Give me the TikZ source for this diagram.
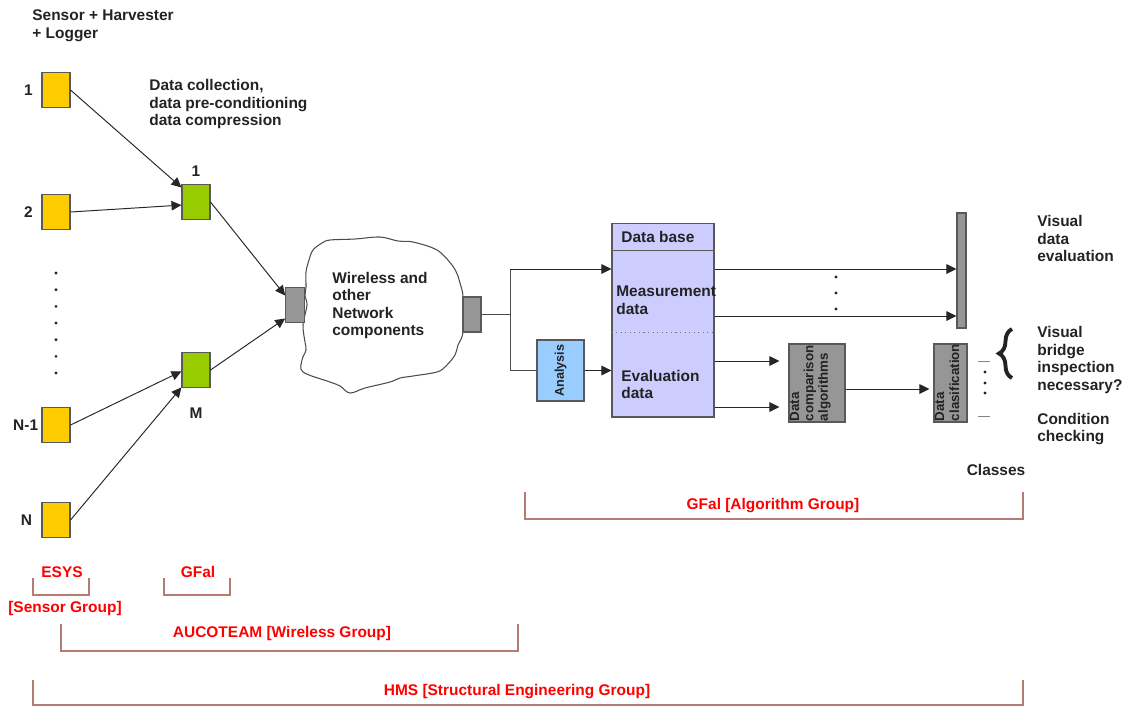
\documentclass[tikz,border=0pt]{standalone}
\usepackage{fontspec}
\setmainfont{Liberation Sans}
\usetikzlibrary{positioning, arrows.meta, decorations.pathreplacing, calc}

\definecolor{sensorfill}{RGB}{255,204,0}
\definecolor{relayfill}{RGB}{153,204,0}
\definecolor{greyfill}{RGB}{150,150,150}
\definecolor{dbfill}{RGB}{204,204,255}
\definecolor{anafill}{RGB}{153,204,255}
\definecolor{groupred}{RGB}{255,0,0}
\definecolor{groupline}{RGB}{180,125,115}
\definecolor{ink}{RGB}{35,35,35}

\begin{document}
\begin{tikzpicture}[
  x=0.02cm, y=-0.02cm,
  font=\fontsize{8.8}{10}\selectfont\bfseries,
  box/.style     = {draw=black!65, line width=0.6pt, inner sep=0pt},
  sensor/.style  = {box, fill=sensorfill, minimum width=5.6mm, minimum height=7mm},
  relay/.style   = {box, fill=relayfill, minimum width=5.6mm, minimum height=7mm},
  port/.style    = {box, fill=greyfill, minimum width=3.7mm, minimum height=7.1mm},
  txt/.style     = {text=ink, align=left, anchor=west, inner sep=0pt},
  num/.style     = {text=ink, inner sep=0pt},
  arr/.style     = {-{Triangle[length=2mm,width=1.9mm]}, line width=0.55pt, color=black!85},
  wire/.style    = {line width=0.55pt, color=black!70},
  vtext/.style   = {text=ink, rotate=90, anchor=north west, align=left, inner sep=0.6pt,
                    font=\fontsize{7.6}{8.2}\selectfont\bfseries},
  group/.style   = {text=groupred, inner sep=0pt},
  bracket/.style = {line width=0.7pt, color=groupline},
]
\useasboundingbox (0,0) rectangle (1124,707);

% =============================================================
% Sensors (harvester + logger) and their first relays
% =============================================================
\node[txt] (sensorhead) at (32, 26)
  {\fontsize{8.8}{10.8}\selectfont Sensor + Harvester\\+ Logger};

\node[sensor] (s1)  at (56, 90)  {};
\node[sensor] (s2)  at (56, 212) {};
\node[sensor] (sN1) at (56, 425) {};
\node[sensor] (sN)  at (56, 520) {};
\node[num, left=1.7mm of s1]  (s1num)  {1};
\node[num, left=1.7mm of s2]  (s2num)  {2};
\node[num, left=0.6mm of sN1] (sN1num) {N-1};
\node[num, left=1.8mm of sN]  (sNnum)  {N};

% column of dots between sensor 2 and N-1
\foreach \k in {0,...,6}
  \fill[ink] (56, 273+16.67*\k) circle (0.9pt);

\node[txt] (proctxt) at (149, 104)
  {Data collection,\\data pre-conditioning\\data compression};

\node[relay] (r1) at (196, 202) {};
\node[relay] (rM) at (196, 370) {};
\node[num, above=1.4mm of r1] (r1num) {1};
\node[num, below=3.9mm of rM] (rMnum) {M};

\draw[arr] (s1.east)  -- (r1.135);
\draw[arr] (s2.east)  -- (r1.192);
\draw[arr] (sN1.east) -- (rM.185);
\draw[arr] (sN.east)  -- (rM.230);

% =============================================================
% Network cloud with its two gateways
% =============================================================
\draw[line width=0.6pt, black!70, fill=white] plot[smooth cycle, tension=0.55] coordinates {
  (313,250) (322,243) (330,240) (355,239) (380,237) (398,241) (413,242) (437,250)
  (452,265) (458,276) (460,283) (463,297) (463,332) (458,345) (455,355) (446,366)
  (437,372) (413,376) (400,378) (390,382) (365,388) (350,393) (340,386) (330,382)
  (303,372) (302,360) (306,350) (305,342) (303,325) (307,305) (305,296) (306,287)
  (306,272) (309,260)};
\node[txt] (cloudtxt) at (332, 305.5)
  {Wireless and\\other\\Network\\components};

\node[port] (p1) at (295, 305)   {};
\node[port, minimum width=3.6mm, minimum height=7mm] (p2) at (472, 314.5) {};

\draw[arr] (r1.east) -- (p1.136);
\draw[arr] (rM.east) -- (p1.234);

% =============================================================
% Data base, analysis and evaluation chain
% =============================================================
\node[box, fill=dbfill, minimum width=20.4mm, minimum height=38.8mm] (db) at (663, 320) {};
\draw[line width=0.6pt, black!65]
  ($(db.north west)+(0,28)$) -- ($(db.north east)+(0,28)$);
\draw[dotted, line width=0.6pt, black!55]
  ($(db.north west)+(0,110)$) -- ($(db.north east)+(0,110)$);
\node[txt] (dbhead)   at (621, 237)   {Data base};
\node[txt] (meastxt)  at (616, 300.5) {Measurement\\data};
\node[txt] (evaltxt)  at (621, 384.5) {Evaluation\\data};

\node[box, fill=anafill, minimum width=9.4mm, minimum height=12.2mm] (ana) at (560.5, 370.5) {};
\node[vtext, anchor=center, font=\fontsize{7.2}{8}\selectfont\bfseries] (anatxt) at (ana) {Analysis};

% split behind the outgoing gateway
\coordinate (jn)   at (510, 314.5);
\coordinate (jtop) at (510, 269);
\coordinate (jbot) at (510, 370.5);
\draw[wire] (p2.east) -- (jn);
\draw[wire] (jtop) -- (jbot);
\draw[arr]  (jtop) -- (jtop -| db.west);
\draw[wire] (jbot) -- (ana.west);
\draw[arr]  (ana.east) -- (ana.east -| db.west);

% visual evaluation bar
\node[box, fill=greyfill, minimum width=1.8mm, minimum height=23mm] (vis) at (961.5, 270.5) {};
\coordinate (mdata1) at (db.east |- jtop);
\coordinate (mdata2) at ($(db.east)+(0,-4)$);
\draw[arr] (mdata1) -- (mdata1 -| vis.west);
\draw[arr] (mdata2) -- (mdata2 -| vis.west);
\foreach \y in {277,293,309}
  \fill[ink] (836,\y) circle (0.9pt);

% comparison and classification
\node[box, fill=greyfill, minimum width=11.2mm, minimum height=15.6mm] (cmp) at (817, 383) {};
\node[vtext] (cmptxt) at (cmp.south west) {Data\\comparison\\algorithms};
\node[box, fill=greyfill, minimum width=6.6mm, minimum height=15.6mm] (cls) at (950.5, 383) {};
\node[vtext, font=\fontsize{7.6}{8.6}\selectfont\bfseries] (clstxt) at (cls.south west) {Data\\clasification};

\coordinate (edata1) at ($(db.east)+(0,41)$);
\coordinate (edata2) at ($(db.east)+(0,87)$);
\draw[arr, shorten >=1.8mm] (edata1) -- (edata1 -| cmp.west);
\draw[arr, shorten >=1.8mm] (edata2) -- (edata2 -| cmp.west);
\draw[arr, shorten >=0.8mm] ($(cmp.east)+(0,6)$) -- ($(cls.west)+(0,6)$);

% class markers and brace
\draw[wire, black!50] (978,361) -- (990,361);
\draw[wire, black!50] (978,416) -- (990,416);
\foreach \y in {372,383,393}
  \fill[ink] (985,\y) circle (0.9pt);
\draw[decorate, decoration={brace, amplitude=2.6mm}, line width=2.2pt, ink] (1012,378) -- (1012,329);

\node[txt] (vistxt)     at (1037, 238.5) {Visual\\data\\evaluation};
\node[txt] (inspecttxt) at (1037, 360)   {Visual\\bridge\\inspection\\necessary?};
\node[txt] (condtxt)    at (1037, 429)   {Condition\\checking};
\node[num] (classes)    at (996, 470)    {Classes};

% =============================================================
% Project groups
% =============================================================
\node[group] (esys)     at (62, 572)  {ESYS};
\node[group] (sensgrp)  at (65, 608)  {[Sensor Group]};
\node[group] (gfalnode) at (198, 572) {GFal};
\node[group] (aucoteam) at (282, 633) {AUCOTEAM [Wireless Group]};
\node[group] (hms)      at (517, 692) {HMS [Structural Engineering Group]};
\node[group] (gfalalg)  at (773, 506) {GFal [Algorithm Group]};

\draw[bracket] (33,578)  |- (89,595)   -- (89,578);
\draw[bracket] (164,578) |- (230,595)  -- (230,578);
\draw[bracket] (61,624)  |- (518,651)  -- (518,624);
\draw[bracket] (33,680)  |- (1023,705) -- (1023,680);
\draw[bracket] (525,492) |- (1023,519) -- (1023,492);

\end{tikzpicture}
\end{document}
